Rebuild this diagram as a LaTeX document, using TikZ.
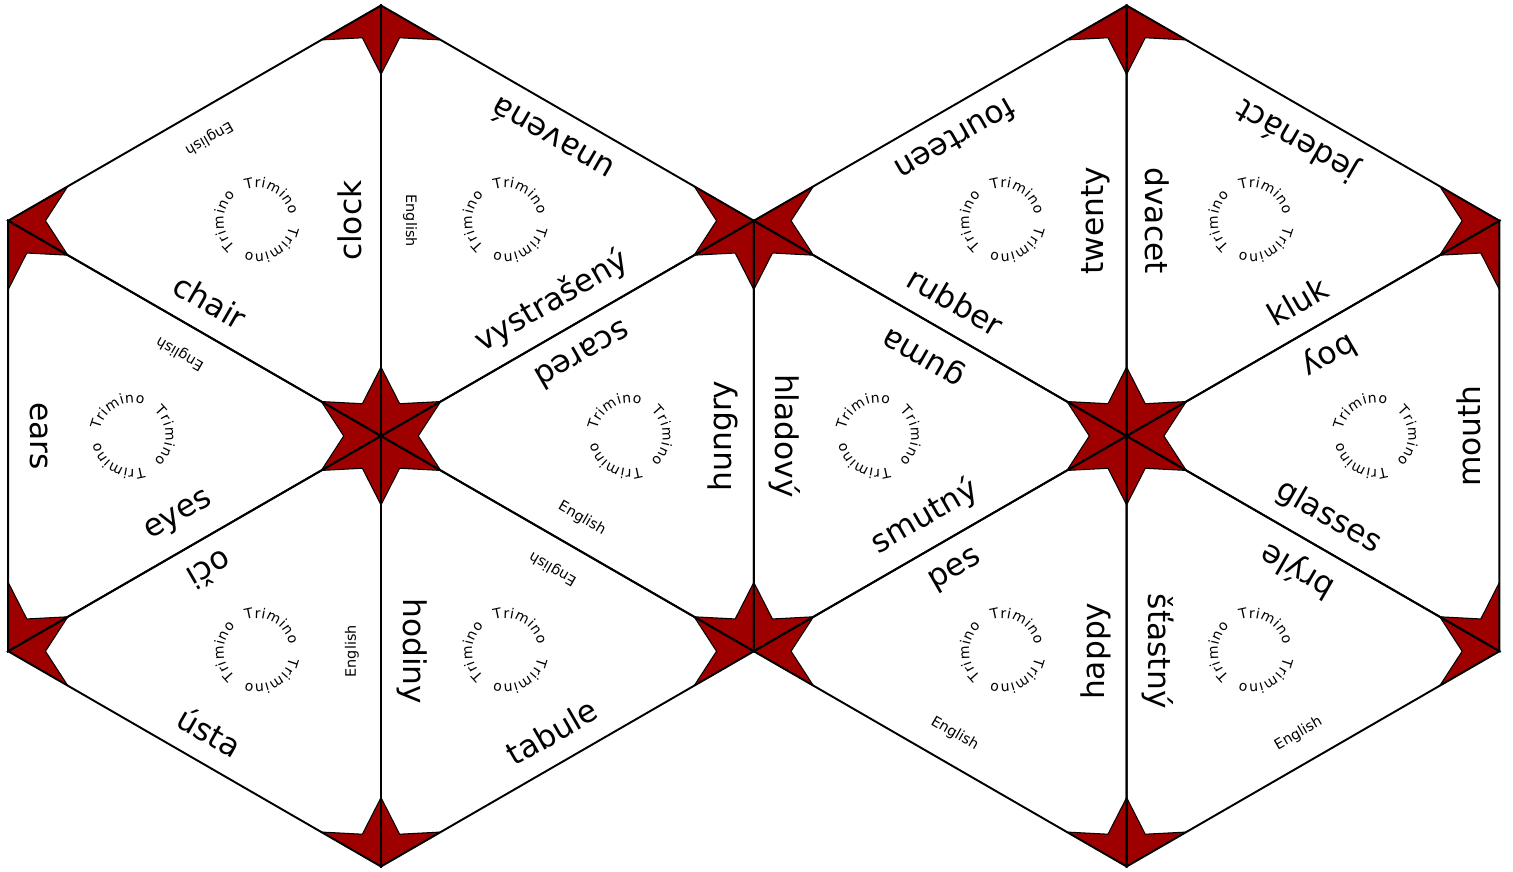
\documentclass[tikz,border=0pt]{standalone}
\usepackage{fontspec}
\setmainfont{DejaVu Sans}
\usetikzlibrary{calc}
\definecolor{starred}{RGB}{158,0,0}
\newcommand{\wordfont}{\fontsize{8.9}{10}\selectfont}
\newcommand{\tagfont}{\fontsize{4.1}{5}\selectfont}
\newcommand{\trimfont}{\fontsize{4}{5}\selectfont}
% one point of a star, in the corner #1 of a triangle #1 #2 #3
\newcommand{\kite}[3]{\filldraw[kite] (#1) -- ($(#1)!0.16!(#2)$) -- ($0.9*(#1)+0.05*(#2)+0.05*(#3)$) -- ($(#1)!0.16!(#3)$) -- cycle;}

\begin{document}
\begin{tikzpicture}[
    kite/.style={fill=starred, draw=black, line width=0.3pt, line join=round},
    edge/.style={draw=black, line width=0.55pt},
    word/.style={font=\wordfont, inner sep=0pt},
    tag/.style={font=\tagfont, inner sep=0pt},
    ring/.style={font=\trimfont, inner sep=0pt, anchor=base}]
  \useasboundingbox (0,0) rectangle (15.13,8.72);
  \def\hside{4.305}
  \def\eh{2.1525}
  \def\ew{0.31}
  \def\tw{0.29}
  \def\er{3.418}
  \def\tr{3.438}

  % corners and centroids of the two hexagons
  \foreach \h/\x in {a/3.81,b/11.266} {
    \coordinate (\h-c) at (\x,4.36);
    \foreach \t in {30,90,...,330}
      \coordinate (\h-\t) at ($(\h-c)+(\t:\hside)$);
    \foreach \t in {0,60,...,300}
      \coordinate (\h-g\t) at ($(\h-c)+(\t:2.4855)$);
  }

  % star points
  \foreach \h in {a,b}
    \foreach \p/\q in {90/150,30/90,150/210,330/30,210/270,270/330} {
      \kite{\h-c}{\h-\p}{\h-\q}
      \kite{\h-\p}{\h-\q}{\h-c}
      \kite{\h-\q}{\h-c}{\h-\p}
    }

  % triangles
  \foreach \h in {a,b}
    \foreach \p/\q in {90/150,30/90,150/210,330/30,210/270,270/330}
      \draw[edge] (\h-c) -- (\h-\p) -- (\h-\q) -- cycle;

  % Trimino rings, letter by letter, clockwise
  \foreach \h in {a,b}
    \foreach \g/\ro in {0/0,60/60,120/60,180/0,240/60,300/60}
      \foreach \rk in {0,120,240}
        \foreach \ltr/\lof [count=\n] in {T/42,r/28.5,i/19.4,m/2.9,i/-13.5,n/-25.6,o/-42}
          \node[ring, rotate=\ro+\rk+\lof-90] (\h\g-\rk-\n) at ($(\h-g\g)+(\ro+\rk+\lof:0.33)$) {\ltr};

  % left hexagon
  \node[word,rotate=90] (clock) at ($(a-c)+(90:\eh)+(180:\ew)$) {clock};
  \node[tag,rotate=-90] (en-a2) at ($(a-c)+(90:\eh)+(0:\tw)$) {English};
  \node[word,rotate=-30] (chair) at ($(a-c)+(150:\eh)+(60:\ew)$) {chair};
  \node[tag,rotate=150] (en-a3) at ($(a-c)+(150:\eh)+(240:\tw)$) {English};
  \node[word,rotate=30] (eyes) at ($(a-c)+(210:\eh)+(120:\ew)$) {eyes};
  \node[word,rotate=210] (oci) at ($(a-c)+(210:\eh)+(300:\ew)$) {oči};
  \node[tag,rotate=90] (en-a5) at ($(a-c)+(270:\eh)+(180:\tw)$) {English};
  \node[word,rotate=-90] (hodiny) at ($(a-c)+(270:\eh)+(0:\ew)$) {hodiny};
  \node[tag,rotate=150] (en-a6) at ($(a-c)+(330:\eh)+(240:\tw)$) {English};
  \node[tag,rotate=-30] (en-a4) at ($(a-c)+(330:\eh)+(60:\tw)$) {English};
  \node[word,rotate=210] (scared) at ($(a-c)+(30:\eh)+(300:\ew)$) {scared};
  \node[word,rotate=30] (vystraseny) at ($(a-c)+(30:\eh)+(120:\ew)$) {vystrašený};
  \node[tag,rotate=210] (en-a1) at ($(a-c)+(120:\tr)$) {English};
  \node[word,rotate=150] (unavena) at ($(a-c)+(60:\er)$) {unavená};
  \node[word,rotate=-90] (ears) at ($(a-c)+(180:\er)$) {ears};
  \node[word,rotate=90] (hungry) at ($(a-c)+(0:\er)$) {hungry};
  \node[word,rotate=-30] (usta) at ($(a-c)+(240:\er)$) {ústa};
  \node[word,rotate=30] (tabule) at ($(a-c)+(300:\er)$) {tabule};

  % right hexagon
  \node[word,rotate=90] (twenty) at ($(b-c)+(90:\eh)+(180:\ew)$) {twenty};
  \node[word,rotate=-90] (dvacet) at ($(b-c)+(90:\eh)+(0:\ew)$) {dvacet};
  \node[word,rotate=-30] (rubber) at ($(b-c)+(150:\eh)+(60:\ew)$) {rubber};
  \node[word,rotate=150] (guma) at ($(b-c)+(150:\eh)+(240:\ew)$) {guma};
  \node[word,rotate=30] (smutny) at ($(b-c)+(210:\eh)+(120:\ew)$) {smutný};
  \node[word,rotate=30] (pes) at ($(b-c)+(210:\eh)+(300:\ew)$) {pes};
  \node[word,rotate=90] (happy) at ($(b-c)+(270:\eh)+(180:\ew)$) {happy};
  \node[word,rotate=-90] (stastny) at ($(b-c)+(270:\eh)+(0:\ew)$) {šťastný};
  \node[word,rotate=150] (bryle) at ($(b-c)+(330:\eh)+(240:\ew)$) {brýle};
  \node[word,rotate=-30] (glasses) at ($(b-c)+(330:\eh)+(60:\ew)$) {glasses};
  \node[word,rotate=210] (boy) at ($(b-c)+(30:\eh)+(300:\ew)$) {boy};
  \node[word,rotate=30] (kluk) at ($(b-c)+(30:\eh)+(120:\ew)$) {kluk};
  \node[word,rotate=210] (fourteen) at ($(b-c)+(120:\er)$) {fourteen};
  \node[word,rotate=150] (jedenact) at ($(b-c)+(60:\er)$) {jedenáct};
  \node[word,rotate=-90] (hladovy) at ($(b-c)+(180:\er)$) {hladový};
  \node[word,rotate=90] (mouth) at ($(b-c)+(0:\er)$) {mouth};
  \node[tag,rotate=-30] (en-b5) at ($(b-c)+(240:\tr)$) {English};
  \node[tag,rotate=30] (en-b6) at ($(b-c)+(300:\tr)$) {English};
\end{tikzpicture}
\end{document}
